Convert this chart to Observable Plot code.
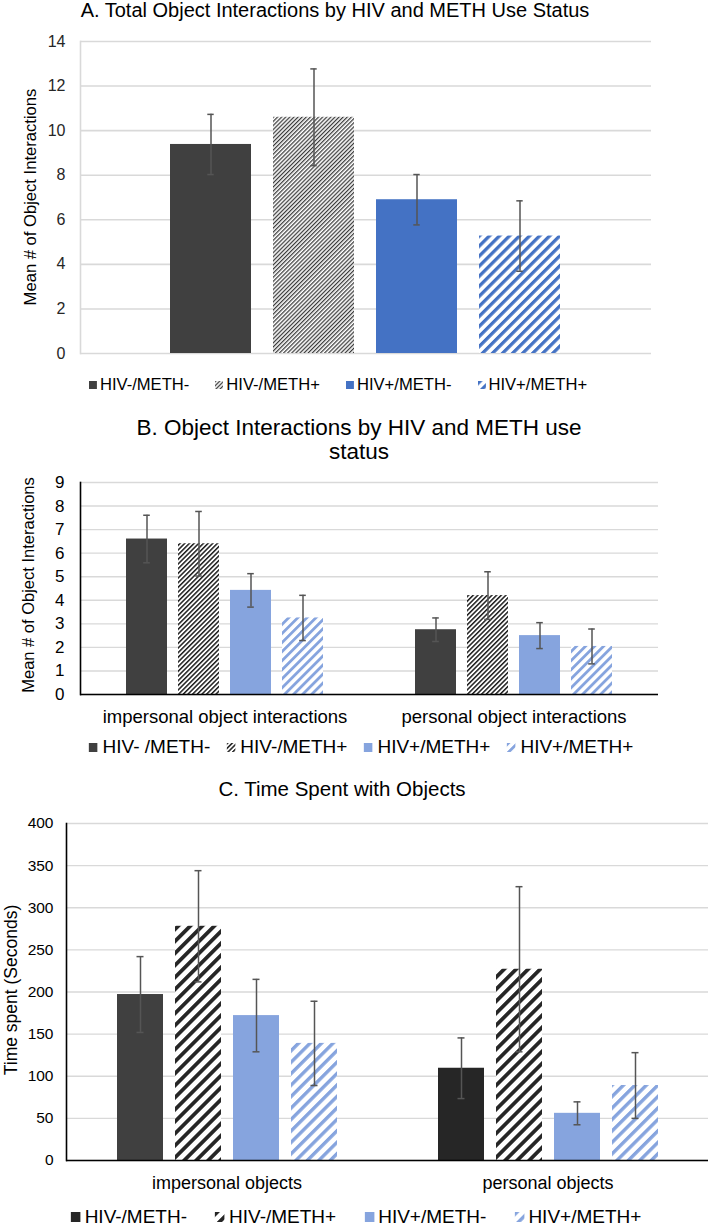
<!DOCTYPE html>
<html>
<head>
<meta charset="utf-8">
<script src="https://cdn.jsdelivr.net/npm/d3@7"></script>
<script src="https://cdn.jsdelivr.net/npm/@observablehq/plot@0.6"></script>
<style>
  body { margin: 0; background: #fff; font-family: "Liberation Sans", Arial, sans-serif; }
  #root { position: relative; width: 708px; height: 1228px; overflow: hidden; background: #fff; }
  #root svg.plotsvg { position: absolute; left: 0; }
  .title { position: absolute; white-space: nowrap; color: #000; text-align: center; transform: translate(-50%, -50%); }
  .ylab { position: absolute; white-space: nowrap; color: #000; transform: translate(-50%, -50%) rotate(-90deg); }
  .legend { position: absolute; display: flex; align-items: center; white-space: nowrap; transform: translate(-50%, -50%); color: #000; }
  .item { display: flex; align-items: center; }
  .item svg { display: block; }
</style>
</head>
<body>
<div id="root"></div>
<script>
// ---------------- DATA ----------------
// Panel A
const titleA = "A. Total Object Interactions by HIV and METH Use Status";
const yLabelA = "Mean # of Object Interactions";
const seriesA = ["HIV-/METH-", "HIV-/METH+", "HIV+/METH-", "HIV+/METH+"];
const meansA = [9.38, 10.6, 6.9, 5.27];
const errA = [1.35, 2.17, 1.13, 1.58];
const ticksA = [0, 2, 4, 6, 8, 10, 12, 14];

// Panel B
const titleB = ["B. Object Interactions by HIV and METH use", "status"];
const yLabelB = "Mean # of Object Interactions";
const categoriesB = ["impersonal object interactions", "personal object interactions"];
const seriesKeys = ["g1", "g2", "g3", "g4"];
const legendB = ["HIV- /METH-", "HIV-/METH+", "HIV+/METH+", "HIV+/METH+"];
const meansBImpersonal = [6.6, 6.4, 4.42, 3.25];
const errBImpersonal = [1.01, 1.37, 0.71, 0.96];
const meansBPersonal = [2.75, 4.2, 2.5, 2.04];
const errBPersonal = [0.5, 1.01, 0.55, 0.74];
const ticksB = [0, 1, 2, 3, 4, 5, 6, 7, 8, 9];

// Panel C
const titleC = "C. Time Spent with Objects";
const yLabelC = "Time spent (Seconds)";
const categoriesC = ["impersonal objects", "personal objects"];
const legendC = ["HIV-/METH-", "HIV-/METH+", "HIV+/METH-", "HIV+/METH+"];
const meansCImpersonal = [197, 278, 172, 139];
const errCImpersonal = [45, 66, 43, 50];
const meansCPersonal = [109.5, 227, 56, 89];
const errCPersonal = [36, 98, 13.6, 39];
const ticksC = [0, 50, 100, 150, 200, 250, 300, 350, 400];

// ---------------- STYLES ----------------
const FONT = "Liberation Sans, Arial, sans-serif";
const fillsA = ["#404040", "url(#hatchA2)", "#4472C4", "url(#hatchA4)"];
const fillsB = ["#404040", "url(#hatchB2)", "#86A4DE", "url(#hatchB4)"];
const fillsC = ["#404040", "url(#hatchC2)", "#86A4DE", "url(#hatchC4)"];
const errColor = "#555555";

const root = document.getElementById("root");

function pattern(id, period, stripe, color) {
  return `<pattern id="${id}" patternUnits="userSpaceOnUse" width="${period}" height="${period}" patternTransform="rotate(45)">
    <rect width="${period}" height="${period}" fill="#fff"/>
    <rect width="${stripe}" height="${period}" fill="${color}"/></pattern>`;
}
const defs = document.createElement("div");
defs.innerHTML = `<svg width="0" height="0" style="position:absolute;left:0;top:0"><defs>
  ${pattern("hatchA2", 2.9, 1.25, "#3a3a3a")}
  ${pattern("hatchA4", 7.1, 3.3, "#4472C4")}
  ${pattern("hatchB2", 3.3, 1.5, "#1e1e1e")}
  ${pattern("hatchB4", 6.4, 2.8, "#86A4DE")}
  ${pattern("hatchC2", 8.5, 3.8, "#262626")}
  ${pattern("hatchC4", 8.1, 3.4, "#86A4DE")}
</defs></svg>`;
root.appendChild(defs.firstChild);

function place(svg, top) {
  svg.classList.add("plotsvg");
  svg.style.top = top + "px";
  svg.style.background = "transparent";
  root.appendChild(svg);
}

// ---------------- PANEL A ----------------
const dataA = seriesA.map((s, i) => ({ s, v: meansA[i], e: errA[i] }));
const plotA = Plot.plot({
  width: 708, height: 372,
  marginTop: 41, marginBottom: 19, marginLeft: 80, marginRight: 57,
  style: { fontFamily: FONT, background: "transparent" },
  x: { domain: seriesA, paddingInner: 0.21, paddingOuter: 0.87, axis: null },
  y: { domain: [0, 14], axis: null },
  color: { domain: seriesA, range: fillsA },
  marks: [
    Plot.gridY(ticksA, { stroke: "#d9d9d9", strokeOpacity: 1, strokeWidth: 1.6 }),
    Plot.frame({ anchor: "left", stroke: "#d9d9d9", strokeWidth: 1.6 }),
    Plot.barY(dataA, { x: "s", y: "v", fill: "s" }),
    Plot.ruleX(dataA, { x: "s", y1: d => d.v - d.e, y2: d => d.v + d.e, stroke: errColor, strokeWidth: 1.5 }),
    Plot.tickY(dataA, { x: "s", y: d => d.v + d.e, stroke: errColor, strokeWidth: 1.5, inset: 37.3 }),
    Plot.tickY(dataA, { x: "s", y: d => d.v - d.e, stroke: errColor, strokeWidth: 1.5, inset: 37.3 }),
    Plot.axisY({ ticks: ticksA, tickSize: 0, tickPadding: 15, fontSize: 16, color: "#262626", label: null })
  ]
});
place(plotA, 0);

// ---------------- PANEL B ----------------
const dataB = [];
categoriesB.forEach((c, j) => {
  const m = j === 0 ? meansBImpersonal : meansBPersonal;
  const e = j === 0 ? errBImpersonal : errBPersonal;
  seriesKeys.forEach((k, i) => dataB.push({ c, k, v: m[i], e: e[i] }));
});
const plotB = Plot.plot({
  width: 708, height: 280,
  marginTop: 22, marginBottom: 46, marginLeft: 79, marginRight: 50,
  style: { fontFamily: FONT, background: "transparent", color: "#000" },
  fx: { domain: categoriesB, padding: 0, axis: null },
  x: { domain: seriesKeys, paddingInner: 0.21, paddingOuter: 0.87, axis: null },
  y: { domain: [0, 9], axis: null },
  color: { domain: seriesKeys, range: fillsB },
  marks: [
    Plot.gridY(ticksB, { stroke: "#d9d9d9", strokeOpacity: 1, strokeWidth: 1.4 }),
    Plot.barY(dataB, { fx: "c", x: "k", y: "v", fill: "k" }),
    Plot.ruleX(dataB, { fx: "c", x: "k", y1: d => d.v - d.e, y2: d => d.v + d.e, stroke: errColor, strokeWidth: 1.5 }),
    Plot.tickY(dataB, { fx: "c", x: "k", y: d => d.v + d.e, stroke: errColor, strokeWidth: 1.5, inset: 17.2 }),
    Plot.tickY(dataB, { fx: "c", x: "k", y: d => d.v - d.e, stroke: errColor, strokeWidth: 1.5, inset: 17.2 }),
    Plot.ruleY([0], { stroke: "#000", strokeWidth: 1.6 }),
    Plot.frame({ anchor: "left", facetAnchor: "left", stroke: "#000", strokeWidth: 1.6 }),
    Plot.axisY({ ticks: ticksB, tickSize: 0, tickPadding: 16, fontSize: 17, color: "#000", label: null }),
    Plot.axisFx({ anchor: "bottom", tickSize: 0, tickPadding: 15, fontSize: 18.5, color: "#000", label: null })
  ]
});
place(plotB, 460);

// ---------------- PANEL C ----------------
const dataC = [];
categoriesC.forEach((c, j) => {
  const m = j === 0 ? meansCImpersonal : meansCPersonal;
  const e = j === 0 ? errCImpersonal : errCPersonal;
  seriesKeys.forEach((k, i) => dataC.push({ c, k, v: m[i], e: e[i], j, i }));
});
const fillC = d => (d.j === 1 && d.i === 0) ? "#262626" : fillsC[d.i];
const plotC = Plot.plot({
  width: 708, height: 410,
  marginTop: 23, marginBottom: 50, marginLeft: 65, marginRight: 0,
  style: { fontFamily: FONT, background: "transparent", color: "#000" },
  fx: { domain: categoriesC, padding: 0, axis: null },
  x: { domain: seriesKeys, paddingInner: 0.21, paddingOuter: 0.87, axis: null },
  y: { domain: [0, 400], axis: null },
  color: { type: "identity" },
  marks: [
    Plot.gridY(ticksC, { stroke: "#d9d9d9", strokeOpacity: 1, strokeWidth: 1.4 }),
    Plot.barY(dataC, { fx: "c", x: "k", y: "v", fill: fillC }),
    Plot.ruleX(dataC, { fx: "c", x: "k", y1: d => d.v - d.e, y2: d => d.v + d.e, stroke: errColor, strokeWidth: 1.5 }),
    Plot.tickY(dataC, { fx: "c", x: "k", y: d => d.v + d.e, stroke: errColor, strokeWidth: 1.5, inset: 19.5 }),
    Plot.tickY(dataC, { fx: "c", x: "k", y: d => d.v - d.e, stroke: errColor, strokeWidth: 1.5, inset: 19.5 }),
    Plot.ruleY([0], { stroke: "#000", strokeWidth: 1.6 }),
    Plot.frame({ anchor: "left", facetAnchor: "left", stroke: "#000", strokeWidth: 1.6 }),
    Plot.axisY({ ticks: ticksC, tickSize: 0, tickPadding: 13, fontSize: 15.5, color: "#000", label: null }),
    Plot.axisFx({ anchor: "bottom", tickSize: 0, tickPadding: 16, fontSize: 18, color: "#000", label: null })
  ]
});
place(plotC, 800);

// ---------------- HTML TEXT: titles, axis labels, legends ----------------
function addTitle(lines, cx, cy, size, lh) {
  const d = document.createElement("div");
  d.className = "title";
  d.style.left = cx + "px";
  d.style.top = cy + "px";
  d.style.fontSize = size + "px";
  d.style.lineHeight = lh + "px";
  d.innerHTML = (Array.isArray(lines) ? lines : [lines]).map(t => t.replace(/&/g, "&amp;").replace(/</g, "&lt;")).join("<br>");
  root.appendChild(d);
}
function addYLabel(text, cx, cy, size) {
  const d = document.createElement("div");
  d.className = "ylab";
  d.style.left = cx + "px";
  d.style.top = cy + "px";
  d.style.fontSize = size + "px";
  d.textContent = text;
  root.appendChild(d);
}
function addLegend(labels, fills, cx, cy, size, sw, swGap, itemGap) {
  const d = document.createElement("div");
  d.className = "legend";
  d.style.left = cx + "px";
  d.style.top = cy + "px";
  d.style.fontSize = size + "px";
  d.style.gap = itemGap + "px";
  labels.forEach((lab, i) => {
    const it = document.createElement("div");
    it.className = "item";
    it.innerHTML = `<svg width="${sw}" height="${sw}" style="margin-right:${swGap}px"><rect width="${sw}" height="${sw}" fill="${fills[i]}"/></svg>`;
    const sp = document.createElement("span");
    sp.textContent = lab;
    it.appendChild(sp);
    d.appendChild(it);
  });
  root.appendChild(d);
}

addTitle(titleA, 335, 10, 20, 22);
addYLabel(yLabelA, 31, 197, 16.6);
addLegend(seriesA, fillsA, 338, 385, 16.6, 8, 3, 26);

addTitle(titleB, 359, 440, 22.5, 24);
addYLabel(yLabelB, 28, 585, 16.5);
addLegend(legendB, fillsB, 361, 747, 19, 9, 5, 16);

addTitle(titleC, 342, 789, 20.5, 24);
addYLabel(yLabelC, 11, 990, 17.5);
addLegend(legendC, ["#262626", fillsC[1], fillsC[2], fillsC[3]], 356, 1217, 19, 10, 4, 28);
</script>
</body>
</html>
